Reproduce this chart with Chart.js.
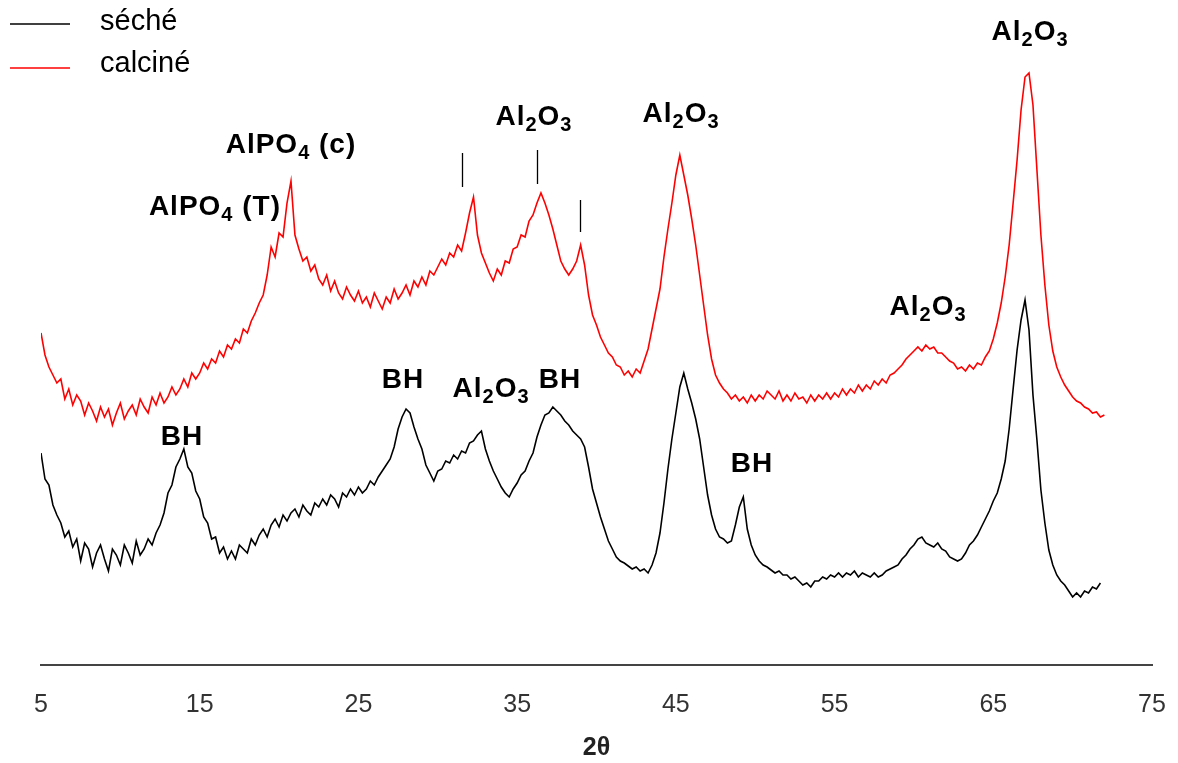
<!DOCTYPE html>
<html>
<head>
<meta charset="utf-8">
<script src="https://cdn.jsdelivr.net/npm/chart.js@4.4.0/dist/chart.umd.min.js"></script>
<style>
  html, body { margin: 0; padding: 0; background: #fff; }
  #wrap { position: relative; width: 1178px; height: 763px; }
</style>
</head>
<body>
<div id="wrap"><canvas id="xrd"></canvas></div>
<script>
'use strict';

// sampling grid of the diffractograms (2theta, degrees)
var THETA_START = 5;
var THETA_STEP = 0.25;

var SERIES_NAMES = ['séché', 'calciné'];
var SERIES_COLORS = ['#000000', '#ff0000'];

// dried sample, 5 -> 71.75 deg (a.u.)
var SECHE = [
  212, 186, 180, 160,   150, 142, 128, 134,   118, 126, 104, 122,   116, 98, 112, 120,
  106, 94, 116, 110,    100, 120, 112, 102,   124, 110, 116, 126,   120, 132, 140, 152,
  172, 180, 198, 206,   216, 198, 192, 174,   166, 148, 142, 126,   128, 112, 118, 106,
  114, 106, 120, 116,   112, 126, 120, 130,   136, 128, 140, 146,   138, 150, 144, 152,
  156, 148, 160, 154,   150, 162, 158, 166,   160, 170, 166, 158,   172, 168, 176, 170,
  178, 172, 176, 184,   180, 188, 194, 200,   206, 218, 236, 248,   256, 252, 238, 226,
  216, 200, 192, 184,   194, 196, 204, 202,   210, 206, 214, 212,   222, 224, 230, 234,
  216, 204, 194, 186,   178, 172, 168, 176,   182, 190, 194, 204,   212, 228, 240, 250,
  252, 258, 254, 250,   244, 240, 234, 230,   226, 218, 198, 176,   162, 148, 136, 124,
  116, 108, 104, 102,   99, 96, 98, 94,       96, 92, 100, 112,     132, 162, 196, 226,
  252, 278, 292, 276,   262, 246, 226, 198,   170, 150, 136, 128,   126, 122, 124, 140,
  158, 168, 136, 120,   110, 104, 100, 98,    95, 92, 94, 90,       90, 86, 88, 84,
  80, 82, 78, 84,       84, 88, 86, 90,       88, 92, 88, 92,       90, 94, 88, 92,
  90, 88, 92, 88,       90, 94, 96, 98,       100, 106, 110, 116,   120, 126, 128, 122,
  120, 118, 122, 116,   114, 108, 106, 104,   106, 112, 120, 124,   130, 138, 146, 154,
  164, 172, 186, 204,   236, 276, 315, 345,   365, 335, 270, 225,   175, 142, 115, 100,
  90, 84, 80, 74,       68, 72, 68, 74,       72, 78, 76, 82
];

// calcined sample, 5 -> 72 deg (a.u.)
var CALCINE = [
  332, 310, 298, 290,   282, 286, 266, 276,   260, 270, 264, 250,   262, 254, 244, 258,
  248, 256, 240, 252,   262, 246, 254, 260,   250, 266, 258, 252,   268, 260, 272, 262,
  268, 278, 270, 276,   286, 278, 292, 286,   292, 302, 296, 306,   302, 314, 308, 320,
  316, 326, 322, 336,   332, 344, 352, 362,   370, 390, 418, 408,   432, 428, 462, 484,
  430, 416, 404, 408,   394, 400, 386, 380,   390, 374, 384, 372,   366, 378, 370, 364,
  374, 362, 368, 358,   372, 364, 356, 368,   362, 376, 366, 372,   380, 370, 384, 378,
  388, 380, 394, 390,   398, 406, 400, 412,   408, 420, 414, 432,   452, 468, 430, 412,
  402, 392, 384, 396,   390, 404, 402, 416,   418, 430, 428, 444,   450, 462, 472, 462,
  450, 436, 420, 404,   396, 390, 396, 404,   420, 400, 370, 350,   340, 328, 320, 312,
  308, 300, 298, 290,   294, 288, 296, 292,   304, 316, 336, 356,   376, 408, 436, 462,
  490, 510, 490, 470,   446, 420, 390, 360,   330, 306, 290, 282,   276, 272, 266, 270,
  264, 268, 262, 270,   264, 270, 266, 274,   270, 266, 274, 264,   270, 264, 272, 266,
  268, 262, 270, 264,   270, 266, 272, 266,   272, 268, 276, 270,   276, 272, 280, 274,
  280, 276, 284, 280,   286, 282, 290, 292,   296, 300, 306, 310,   314, 318, 314, 320,
  316, 318, 312, 312,   308, 304, 302, 296,   298, 294, 300, 296,   302, 300, 308, 314,
  326, 342, 362, 388,   420, 462, 505, 555,   588, 592, 560, 495,   430, 380, 340, 314,
  298, 288, 280, 274,   268, 264, 262, 258,   256, 252, 253, 248,   250
];

var X_TICKS = [5, 15, 25, 35, 45, 55, 65, 75];
var X_TITLE = '2θ';

// peak assignments ('_' = next char as subscript)
var PEAK_TEXT = ['AlPO_4 (c)', 'AlPO_4 (T)', 'Al_2O_3', 'Al_2O_3', 'Al_2O_3', 'Al_2O_3',
                 'BH', 'BH', 'Al_2O_3', 'BH', 'BH'];
var PEAK_AT = [20.75, 15.96, 36.06, 45.33, 67.32, 60.89, 13.88, 27.81, 33.36, 37.7, 49.8];
var PEAK_LEVEL = [522, 460, 550, 553, 635, 360, 230, 287, 278, 287, 203];

// small vertical markers above the calcined peaks
var MARK_AT = [31.53, 36.25, 38.96];
var MARK_TOP = [512, 515, 465];
var MARK_BOTTOM = [478, 481, 433];

function toPoints(values) {
  return values.map(function (v, i) {
    return { x: THETA_START + i * THETA_STEP, y: v };
  });
}

var FONT = '"Liberation Sans", Arial, sans-serif';

function splitRich(str) {
  var out = [];
  for (var i = 0; i < str.length; i++) {
    if (str[i] === '_') { out.push({ t: str[i + 1], sub: true }); i++; }
    else out.push({ t: str[i], sub: false });
  }
  return out;
}

function drawRich(ctx, str, cx, cy) {
  var parts = splitRich(str);
  var mainFont = 'bold 28px ' + FONT, subFont = 'bold 20px ' + FONT;
  var w = 0;
  parts.forEach(function (p) {
    ctx.font = p.sub ? subFont : mainFont;
    p.w = ctx.measureText(p.t).width + 1;
    w += p.w;
  });
  var x = cx - w / 2, base = cy + 10;
  parts.forEach(function (p) {
    ctx.font = p.sub ? subFont : mainFont;
    ctx.fillText(p.t, x, p.sub ? base + 6 : base);
    x += p.w;
  });
}

var annotations = {
  id: 'annotations',
  afterDraw: function (chart) {
    var ctx = chart.ctx, xs = chart.scales.x, ys = chart.scales.y;
    ctx.save();
    ctx.fillStyle = '#000';
    ctx.textAlign = 'left';
    ctx.textBaseline = 'alphabetic';
    PEAK_TEXT.forEach(function (t, i) {
      drawRich(ctx, t, xs.getPixelForValue(PEAK_AT[i]), ys.getPixelForValue(PEAK_LEVEL[i]));
    });
    ctx.strokeStyle = '#000';
    ctx.lineWidth = 1.3;
    MARK_AT.forEach(function (m, i) {
      var px = Math.round(xs.getPixelForValue(m)) + 0.5;
      ctx.beginPath();
      ctx.moveTo(px, ys.getPixelForValue(MARK_TOP[i]));
      ctx.lineTo(px, ys.getPixelForValue(MARK_BOTTOM[i]));
      ctx.stroke();
    });

    // legend, top left
    ctx.font = '29px ' + FONT;
    ctx.textBaseline = 'middle';
    [[24, 22], [68, 64]].forEach(function (pos, i) {
      ctx.strokeStyle = SERIES_COLORS[i];
      ctx.lineWidth = 1.5;
      ctx.beginPath();
      ctx.moveTo(10, pos[0]);
      ctx.lineTo(70, pos[0]);
      ctx.stroke();
      ctx.fillStyle = '#000';
      ctx.fillText(SERIES_NAMES[i], 100, pos[1]);
    });
    ctx.restore();
  }
};

new Chart(document.getElementById('xrd'), {
  type: 'line',
  data: {
    datasets: [
      { label: SERIES_NAMES[0], data: toPoints(SECHE), borderColor: SERIES_COLORS[0],
        borderWidth: 1.6, pointRadius: 0, tension: 0, fill: false },
      { label: SERIES_NAMES[1], data: toPoints(CALCINE), borderColor: SERIES_COLORS[1],
        borderWidth: 1.6, pointRadius: 0, tension: 0, fill: false }
    ]
  },
  options: {
    responsive: true,
    maintainAspectRatio: false,
    animation: false,
    layout: { padding: { left: 41, right: 26, top: 0, bottom: 0 } },
    plugins: { legend: { display: false }, tooltip: { enabled: false } },
    scales: {
      x: {
        type: 'linear',
        min: 5,
        max: 75,
        afterBuildTicks: function (axis) {
          axis.ticks = X_TICKS.map(function (v) { return { value: v }; });
        },
        grid: { display: true, drawOnChartArea: false, drawTicks: true, tickLength: 23,
                color: 'rgba(0,0,0,0)' },
        border: { display: true, color: '#444', width: 2 },
        ticks: { padding: 2, color: '#333', maxRotation: 0, font: { family: FONT, size: 25 } },
        title: { display: true, text: X_TITLE, color: '#222', padding: { top: 11, bottom: 0 },
                 font: { family: FONT, size: 25, weight: 'bold' } }
      },
      y: { display: false, min: 0, max: 665 }
    }
  },
  plugins: [annotations]
});
</script>
</body>
</html>
